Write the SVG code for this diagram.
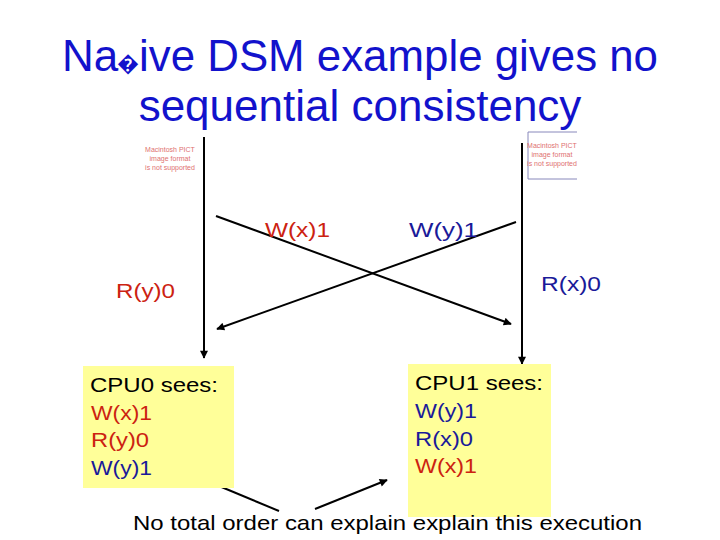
<svg xmlns="http://www.w3.org/2000/svg" width="720" height="540" viewBox="0 0 720 540">
<style>
text{font-family:"Liberation Sans",Arial,sans-serif}
.title{font-size:44px;fill:#1212CC}
.lbl{font-size:21px}
.box{font-size:21px}
.red{fill:#CC2211}
.blue{fill:#1A1A99}
.blk{fill:#000}
.yel{fill:#FFFF99}
.ln{stroke:#000;stroke-width:2;fill:none;marker-end:url(#ah)}
.pict{font-size:7px;fill:#E07070;text-anchor:middle}
</style>
<defs>
<marker id="ah" viewBox="0 0 10 10" refX="9" refY="5" markerWidth="5" markerHeight="4" orient="auto" markerUnits="strokeWidth">
<path d="M0,0 L10,5 L0,10 z" fill="#000"/>
</marker>
</defs>
<rect width="720" height="540" fill="#fff"/>
<g id="title">
<text class="title" y="71"><tspan x="62">Na</tspan><tspan x="117" font-size="22">�</tspan><tspan x="139" textLength="519" lengthAdjust="spacingAndGlyphs">ive DSM example gives no</tspan></text>
<text class="title" x="360" y="121" text-anchor="middle">sequential consistency</text>
</g>
<g id="pict-left">
<text class="pict" x="170" y="152">Macintosh PICT</text>
<text class="pict" x="170" y="161">image format</text>
<text class="pict" x="170" y="170">is not supported</text>
</g>
<g id="pict-right">
<path d="M577,132 H528 V179 H577" fill="#fff" stroke="#8888BB" stroke-width="1"/>
<text class="pict" x="552" y="148">Macintosh PICT</text>
<text class="pict" x="552" y="157">image format</text>
<text class="pict" x="552" y="166">is not supported</text>
</g>
<g id="connectors">
<line class="ln" x1="204" y1="137" x2="204" y2="358"/>
<line class="ln" x1="522" y1="143" x2="522" y2="364"/>
<line class="ln" x1="216" y1="216" x2="511" y2="324"/>
<line class="ln" x1="516" y1="222" x2="217" y2="329"/>
<line class="ln" x1="279" y1="511" x2="207" y2="481"/>
<line class="ln" x1="315" y1="509" x2="387" y2="480"/>
</g>
<g id="labels">
<text class="lbl red" x="265" y="237" textLength="65" lengthAdjust="spacingAndGlyphs">W(x)1</text>
<text class="lbl blue" x="409" y="237" textLength="69" lengthAdjust="spacingAndGlyphs">W(y)1</text>
<text class="lbl red" x="116" y="298" textLength="59" lengthAdjust="spacingAndGlyphs">R(y)0</text>
<text class="lbl blue" x="541" y="291" textLength="60" lengthAdjust="spacingAndGlyphs">R(x)0</text>
</g>
<g id="cpu0">
<rect class="yel" x="83" y="366" width="151" height="122"/>
<text class="box blk" x="90" y="392" textLength="128" lengthAdjust="spacingAndGlyphs">CPU0 sees:</text>
<text class="box red" x="91" y="420" textLength="61" lengthAdjust="spacingAndGlyphs">W(x)1</text>
<text class="box red" x="91" y="447" textLength="58" lengthAdjust="spacingAndGlyphs">R(y)0</text>
<text class="box blue" x="91" y="475" textLength="61" lengthAdjust="spacingAndGlyphs">W(y)1</text>
</g>
<g id="cpu1">
<rect class="yel" x="408" y="364" width="143" height="153"/>
<text class="box blk" x="415" y="390" textLength="128" lengthAdjust="spacingAndGlyphs">CPU1 sees:</text>
<text class="box blue" x="415" y="418" textLength="62" lengthAdjust="spacingAndGlyphs">W(y)1</text>
<text class="box blue" x="415" y="446" textLength="58" lengthAdjust="spacingAndGlyphs">R(x)0</text>
<text class="box red" x="415" y="473" textLength="62" lengthAdjust="spacingAndGlyphs">W(x)1</text>
</g>
<g id="caption">
<text class="box blk" x="133" y="530" textLength="509" lengthAdjust="spacingAndGlyphs">No total order can explain explain this execution</text>
</g>
</svg>
